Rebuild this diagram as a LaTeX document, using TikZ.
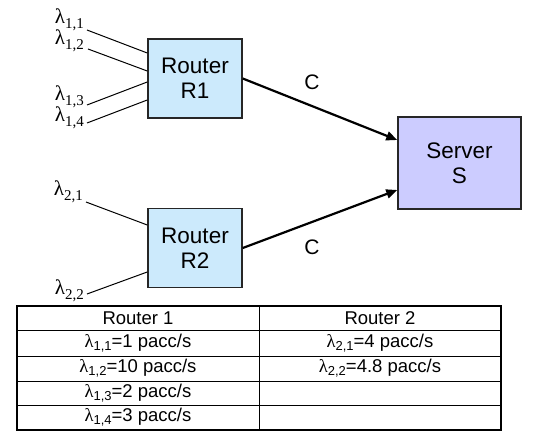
\documentclass[tikz,border=0pt]{standalone}
\usepackage{fontspec}
\setmainfont{Liberation Sans}
\newfontfamily\lamfont{Liberation Serif}
\usepackage{xcolor}
\usepackage{tikz}
\usetikzlibrary{positioning,arrows.meta}
\definecolor{routerblue}{RGB}{204,234,252}
\definecolor{serverblue}{RGB}{204,204,255}
\newcommand{\lamlab}[1]{{\lamfont\fontsize{21}{24}\selectfont λ\raisebox{-5pt}{\fontsize{15}{17}\selectfont #1}}}
\newcommand{\lamcell}[1]{{\lamfont λ}\raisebox{-3pt}{\fontsize{13}{15}\selectfont #1}}
\tikzset{
  boxnode/.style={draw=black!85,line width=1.5pt,align=center,font=\fontsize{22.5}{25}\selectfont},
  router/.style={boxnode,fill=routerblue,minimum width=94pt,minimum height=79pt},
  server/.style={boxnode,fill=serverblue,minimum width=123pt,minimum height=92pt},
  lam/.style={inner sep=0pt,anchor=south east},
  feed/.style={line width=1pt},
  link/.style={line width=2.2pt,-{Triangle[length=11pt,width=9pt]}},
  cell/.style={font=\fontsize{18.5}{22}\selectfont,inner sep=0pt}
}
\begin{document}
\begin{tikzpicture}[x=1pt,y=-1pt]
  \useasboundingbox (0,0) rectangle (539,433);
  % routers and server
  \node[router] (R1) at (195,78.5) {Router\\R1};
  \node[router] (R2) at (195,248) {Router\\R2};
  \node[server] (S) at (459.5,163) {Server\\S};
  % incoming flows
  \node[lam] (l11) at (84,31) {\lamlab{1,1}};
  \node[lam] (l12) at (84,52) {\lamlab{1,2}};
  \node[lam] (l13) at (84,108) {\lamlab{1,3}};
  \node[lam] (l14) at (84,129) {\lamlab{1,4}};
  \node[lam] (l21) at (83,203) {\lamlab{2,1}};
  \node[lam] (l22) at (84,302) {\lamlab{2,2}};
  \draw[feed] ([xshift=3pt,yshift=1pt]l11.south east) -- ([yshift=25.5pt]R1.west);
  \draw[feed] ([xshift=4pt,yshift=3pt]l12.south east) -- ([yshift=7.5pt]R1.west);
  \draw[feed] ([xshift=3pt,yshift=3pt]l13.south east) -- ([yshift=-3.5pt]R1.west);
  \draw[feed] ([xshift=3pt,yshift=6pt]l14.south east) -- ([yshift=-21.5pt]R1.west);
  \draw[feed] ([xshift=3pt,yshift=1pt]l21.south east) -- ([yshift=23pt]R2.west);
  \draw[feed] ([xshift=3pt,yshift=8pt]l22.south east) -- ([yshift=-24pt]R2.west);
  % links to the server
  \draw[link] (R1.east) -- ([yshift=23pt]S.west);
  \draw[link] (R2.east) -- ([yshift=-27pt]S.west);
  \node[cell,font=\fontsize{21}{24}\selectfont] (c1) at (312,82) {C};
  \node[cell,font=\fontsize{21}{24}\selectfont] (c2) at (312,247) {C};
  % table
  \draw[line width=1.5pt] (17,306) rectangle (501,430);
  \draw[line width=1pt] (259,306) -- (259,430)
    (17,331) -- (501,331) (17,356) -- (501,356)
    (17,381) -- (501,381) (17,405) -- (501,405);
  \node[cell] (h1) at (138,318.5) {Router 1};
  \node[cell] (h2) at (380,318.5) {Router 2};
  \node[cell] (a1) at (138,343.5) {\lamcell{1,1}=1 pacc/s};
  \node[cell] (a2) at (138,368.5) {\lamcell{1,2}=10 pacc/s};
  \node[cell] (a3) at (138,393) {\lamcell{1,3}=2 pacc/s};
  \node[cell] (a4) at (138,417.5) {\lamcell{1,4}=3 pacc/s};
  \node[cell] (b1) at (380,343.5) {\lamcell{2,1}=4 pacc/s};
  \node[cell] (b2) at (380,368.5) {\lamcell{2,2}=4.8 pacc/s};
\end{tikzpicture}
\end{document}
